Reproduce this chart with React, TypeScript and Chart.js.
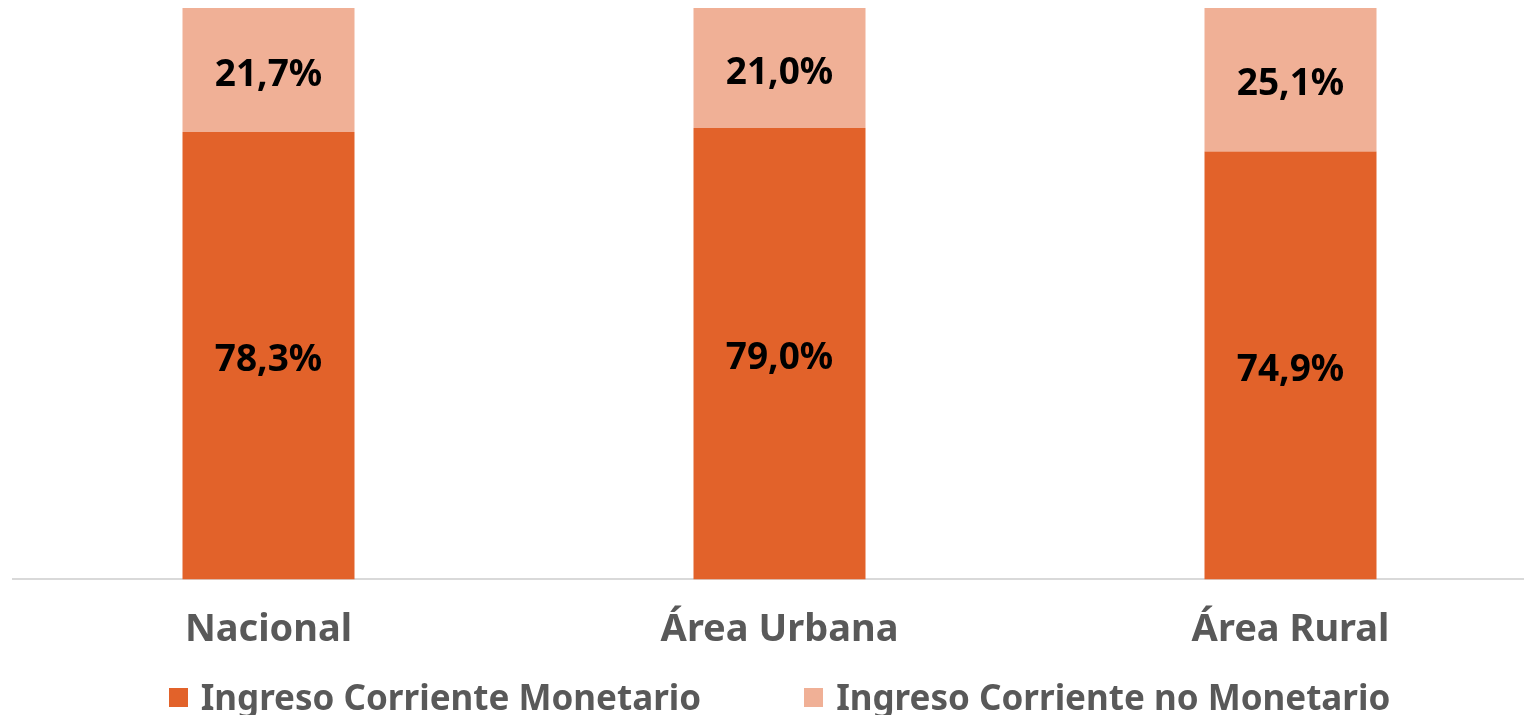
import React, { useEffect, useRef } from "react";
import { Chart, registerables } from "chart.js";

Chart.register(...registerables);

const categories = ["Nacional", "Área Urbana", "Área Rural"];
const seriesNames = ["Ingreso Corriente Monetario", "Ingreso Corriente no Monetario"];
const monetario = [78.3, 79.0, 74.9];
const noMonetario = [21.7, 21.0, 25.1];

const DARK = "#E2622A";
const LIGHT = "#F0B096";
const GREY = "#595959";
const FONT = "'Noto Sans', 'DejaVu Sans', sans-serif";

const labelPlugin = {
  id: "barLabels",
  afterDatasetsDraw(chart: any) {
    const ctx = chart.ctx;
    ctx.save();
    ctx.font = `bold 37px ${FONT}`;
    ctx.fillStyle = "#000000";
    ctx.textAlign = "center";
    ctx.textBaseline = "middle";
    chart.data.datasets.forEach((ds: any, di: number) => {
      const meta = chart.getDatasetMeta(di);
      meta.data.forEach((el: any, i: number) => {
        const v = ds.data[i] as number;
        const txt = v.toFixed(1).replace(".", ",") + "%";
        ctx.fillText(txt, el.x, (el.y + el.base) / 2 + 5);
      });
    });
    ctx.restore();
  },
};

export default function App() {
  const ref = useRef<HTMLCanvasElement | null>(null);
  useEffect(() => {
    if (!ref.current) return;
    const chart = new Chart(ref.current, {
      type: "bar",
      data: {
        labels: categories,
        datasets: [
          { label: seriesNames[0], data: monetario, backgroundColor: DARK },
          { label: seriesNames[1], data: noMonetario, backgroundColor: LIGHT },
        ],
      },
      options: {
        responsive: false,
        animation: false,
        datasets: { bar: { categoryPercentage: 1, barPercentage: 0.3366 } },
        layout: { padding: { left: 13, right: 14, top: 8, bottom: 34 } },
        plugins: { legend: { display: false }, tooltip: { enabled: false } },
        scales: {
          x: {
            stacked: true,
            grid: { display: false, drawTicks: false },
            border: { display: true, color: "#D9D9D9", width: 2 },
            ticks: { color: GREY, font: { family: FONT, size: 38, weight: "bold" }, padding: 28 },
          },
          y: { stacked: true, display: false, min: 0, max: 100 },
        },
      },
      plugins: [labelPlugin],
    });
    return () => chart.destroy();
  }, []);

  const legendItem = (name: string, color: string) => (
    <div key={name} style={{ display: "flex", alignItems: "center" }}>
      <div style={{ width: 19, height: 19, background: color, marginRight: 13 }} />
      <span>{name}</span>
    </div>
  );

  return (
    <div style={{ position: "fixed", left: 0, top: 0, width: 1524, height: 715, overflow: "hidden", background: "#fff" }}>
      <div style={{ position: "absolute", left: 0, top: 0, width: 1560, height: 715 }}>
        <canvas ref={ref} width={1560} height={715} style={{ width: 1560, height: 715, display: "block" }} />
        <div
          style={{
            position: "absolute",
            left: 0,
            top: 677,
            width: 1559,
            display: "flex",
            justifyContent: "center",
            gap: 103,
            fontFamily: FONT,
            fontWeight: "bold",
            fontSize: 35,
            lineHeight: "40px",
            color: GREY,
            whiteSpace: "nowrap",
          }}
        >
          {legendItem(seriesNames[0], DARK)}
          {legendItem(seriesNames[1], LIGHT)}
        </div>
      </div>
    </div>
  );
}
